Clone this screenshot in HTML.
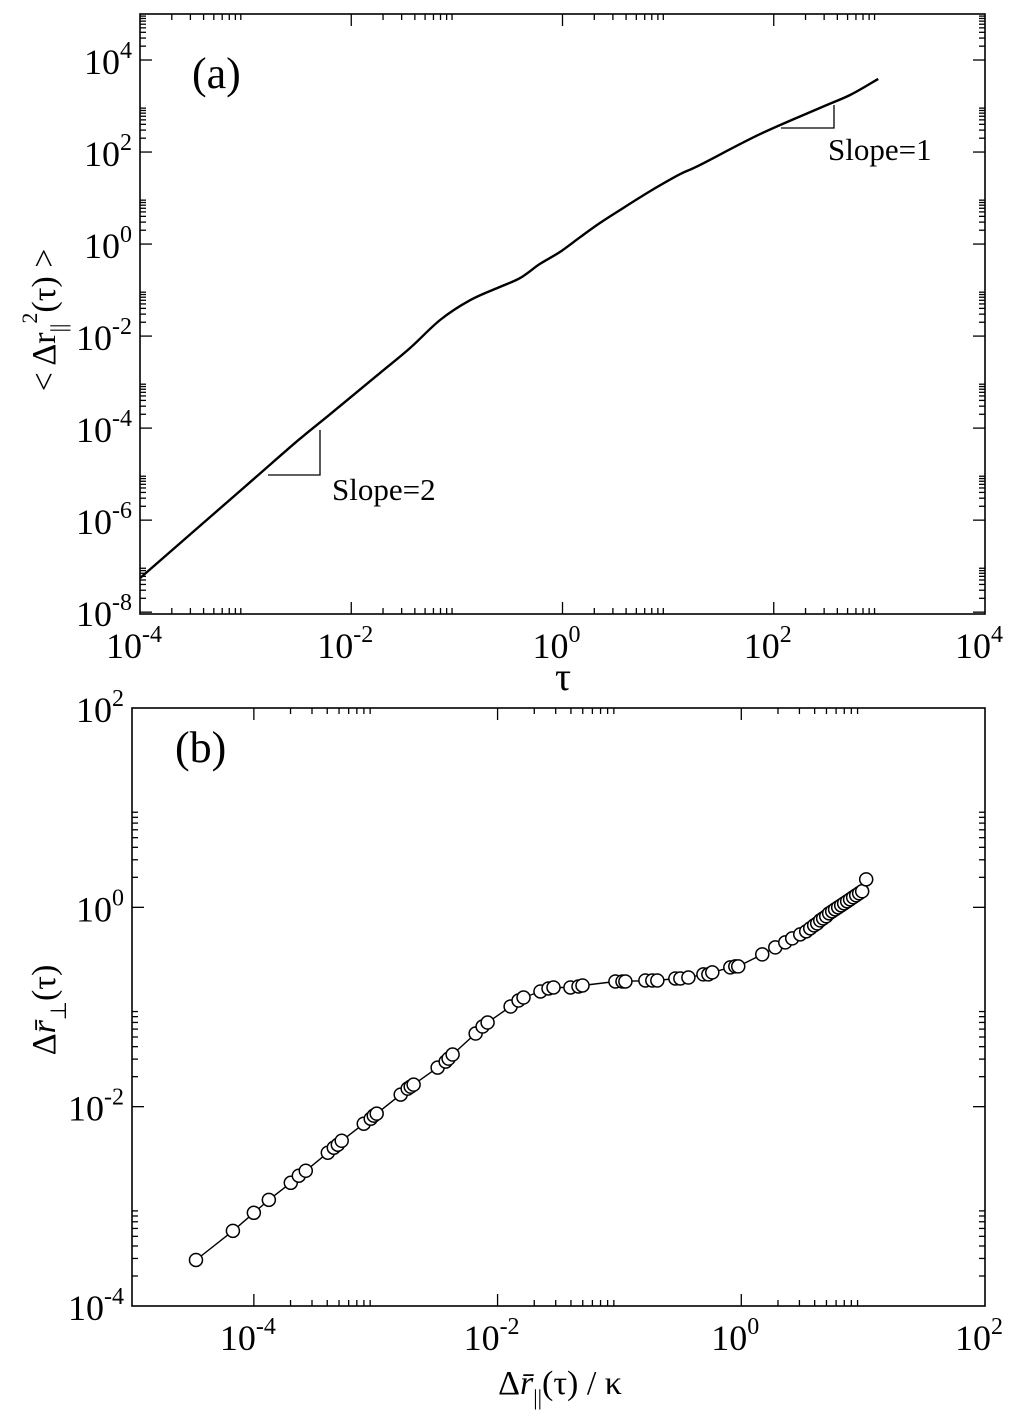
<!DOCTYPE html>
<html><head><meta charset="utf-8"><style>
body{margin:0;background:#fff}
svg{display:block;font-family:"Liberation Serif",serif}
</style></head><body>
<svg id="fig" width="1024" height="1426" viewBox="0 0 1024 1426" xmlns="http://www.w3.org/2000/svg">
<g id="pa"></g>
<g id="pb"></g>
<text x="192" y="88" font-size="44">(a)</text>
<text x="175" y="762" font-size="44">(b)</text>
<text x="563" y="690" font-size="40" text-anchor="middle">τ</text>
<text transform="translate(55,320) rotate(-90)" font-size="34" text-anchor="middle">&lt; Δr<tspan font-size="22" dy="11">||</tspan><tspan font-size="22" dy="-29">2</tspan><tspan dy="18">(τ) &gt;</tspan></text>
<text x="560" y="1394" font-size="34" text-anchor="middle">Δ<tspan font-style="italic">r̄</tspan><tspan font-size="22" dy="11">||</tspan><tspan dy="-11">(τ) / κ</tspan></text>
<text transform="translate(55,1010) rotate(-90)" font-size="34" text-anchor="middle">Δ<tspan font-style="italic">r̄</tspan><tspan font-size="22" dy="11">⊥</tspan><tspan dy="-11">(τ)</tspan></text>
<g stroke="#000" stroke-width="1.3" fill="none"><path d="M268 475 H320 V430"/></g>
<text x="332" y="500" font-size="31">Slope=2</text>
<g stroke="#000" stroke-width="1.3" fill="none"><path d="M781 128 H834 V105"/></g>
<text x="828" y="160" font-size="31">Slope=1</text>
</svg>
<script>
// Panel (a) data: log10(tau), log10(<dr^2>)
const aLogTau = [-4,-3,-2.5,-2.201,-1.727,-1.443,-1.159,-0.875,-0.591,-0.402,-0.212,-0.023,0.167,0.356,0.545,0.830,1.114,1.303,1.871,2.439,2.723,2.989];
const aLogMsd = [-7.26,-5.26,-4.26,-3.70,-2.80,-2.26,-1.65,-1.22,-0.93,-0.74,-0.43,-0.17,0.15,0.46,0.74,1.15,1.52,1.72,2.39,2.96,3.24,3.59];
const aXTicks = [-4,-2,0,2,4];
const aYTicks = [-8,-6,-4,-2,0,2,4];
// Panel (b) data: log10 values
const bLogX = [-4.475,-4.172,-4.000,-3.877,-3.697,-3.631,-3.574,-3.393,-3.344,-3.311,-3.279,-3.098,-3.041,-3.016,-2.992,-2.795,-2.738,-2.713,-2.689,-2.492,-2.426,-2.402,-2.369,-2.180,-2.123,-2.082,-1.893,-1.828,-1.787,-1.648,-1.582,-1.541,-1.402,-1.336,-1.303,-1.033,-0.975,-0.951,-0.787,-0.730,-0.689,-0.541,-0.500,-0.434,-0.311,-0.270,-0.238,-0.090,-0.049,-0.025,0.172,0.279,0.361,0.418,0.484,0.533,0.566,0.598,0.623,0.648,0.672,0.697,0.721,0.746,0.770,0.795,0.820,0.844,0.869,0.893,0.918,0.943,0.967,0.992,1.025];
const bLogY = [-3.538,-3.246,-3.065,-2.935,-2.764,-2.693,-2.643,-2.462,-2.412,-2.382,-2.342,-2.171,-2.121,-2.090,-2.070,-1.879,-1.819,-1.799,-1.779,-1.608,-1.548,-1.518,-1.477,-1.266,-1.196,-1.156,-0.995,-0.935,-0.905,-0.844,-0.814,-0.804,-0.804,-0.794,-0.784,-0.744,-0.744,-0.744,-0.734,-0.734,-0.734,-0.714,-0.714,-0.704,-0.673,-0.673,-0.653,-0.603,-0.593,-0.593,-0.472,-0.402,-0.352,-0.312,-0.271,-0.241,-0.211,-0.181,-0.161,-0.131,-0.111,-0.090,-0.060,-0.040,-0.020,0.000,0.020,0.040,0.060,0.080,0.101,0.121,0.141,0.161,0.281];
const bXTicks = [-4,-2,0,2];
const bYTicks = [-4,-2,0,2];

const NS='http://www.w3.org/2000/svg';
function mk(tag,attrs,parent){const e=document.createElementNS(NS,tag);for(const k in attrs)e.setAttribute(k,attrs[k]);parent.appendChild(e);return e;}

function panel(g,box,xr,yr,xt,yt,pre){
  const sx=v=>box.l+(v-xr[0])/(xr[1]-xr[0])*(box.r-box.l);
  const sy=v=>box.b-(v-yr[0])/(yr[1]-yr[0])*(box.b-box.t);
  const frame=mk('rect',{x:box.l,y:box.t,width:box.r-box.l,height:box.b-box.t,fill:'none',stroke:'#000','stroke-width':1.6},g);
  
  
  const tk=mk('g',{stroke:'#000','stroke-width':1.3},g);
  
  
  xt.forEach((v,i)=>{
    const x=sx(v);
    if(v>xr[0]&&v<xr[1]){mk('line',{x1:x,x2:x,y1:box.b,y2:box.b-12},tk);mk('line',{x1:x,x2:x,y1:box.t,y2:box.t+12},tk);}
    if(i<xt.length-1)for(let k=2;k<=9;k++){const xm=sx(v+Math.log10(k));mk('line',{x1:xm,x2:xm,y1:box.b,y2:box.b-6},tk);mk('line',{x1:xm,x2:xm,y1:box.t,y2:box.t+6},tk);}
    const t=mk('text',{x:x-6,y:box.b+44,'font-size':36,'text-anchor':'middle'},g);
    
    
    t.innerHTML='10<tspan font-size="24" dy="-16">'+v+'</tspan>';
  });
  yt.forEach((v,i)=>{
    const y=sy(v);
    if(v>yr[0]&&v<yr[1]){mk('line',{x1:box.l,x2:box.l+12,y1:y,y2:y},tk);mk('line',{x1:box.r,x2:box.r-12,y1:y,y2:y},tk);}
    for(let k=2;k<=9;k++){const lv=v+Math.log10(k);if(lv>yr[1])break;const ym=sy(lv);mk('line',{x1:box.l,x2:box.l+6,y1:ym,y2:ym},tk);mk('line',{x1:box.r,x2:box.r-6,y1:ym,y2:ym},tk);}
    const t=mk('text',{x:box.l-8,y:y+14,'font-size':36,'text-anchor':'end'},g);
    
    
    t.innerHTML='10<tspan font-size="24" dy="-16">'+v+'</tspan>';
  });
  return {sx,sy};
}

function smooth(pts){
  let d='M'+pts[0][0].toFixed(1)+' '+pts[0][1].toFixed(1);
  for(let i=0;i<pts.length-1;i++){
    const p0=pts[Math.max(0,i-1)],p1=pts[i],p2=pts[i+1],p3=pts[Math.min(pts.length-1,i+2)];
    const c1=[p1[0]+(p2[0]-p0[0])/6,p1[1]+(p2[1]-p0[1])/6];
    const c2=[p2[0]-(p3[0]-p1[0])/6,p2[1]-(p3[1]-p1[1])/6];
    d+='C'+c1[0].toFixed(1)+' '+c1[1].toFixed(1)+' '+c2[0].toFixed(1)+' '+c2[1].toFixed(1)+' '+p2[0].toFixed(1)+' '+p2[1].toFixed(1);
  }
  return d;
}

const A=panel(document.getElementById('pa'),{l:140,r:985,t:14,b:614},[-4,4],[-8.04,5.0],aXTicks,aYTicks,'panel-a');
const aPts=aLogTau.map((v,i)=>[A.sx(v),A.sy(aLogMsd[i])]);
const la=mk('path',{d:smooth(aPts),fill:'none',stroke:'#000','stroke-width':2.4,'stroke-linejoin':'round'},document.getElementById('pa'));



const B=panel(document.getElementById('pb'),{l:132,r:985,t:708,b:1306},[-5,2],[-4,2],bXTicks,bYTicks,'panel-b');
let d2='';
bLogX.forEach((v,i)=>{d2+=(i?'L':'M')+B.sx(v).toFixed(1)+' '+B.sy(bLogY[i]).toFixed(1);});
const lb=mk('path',{d:d2,fill:'none',stroke:'#000','stroke-width':1.4},document.getElementById('pb'));


const mg=mk('g',{},document.getElementById('pb'));


bLogX.forEach((v,i)=>{
  const c=mk('circle',{cx:B.sx(v),cy:B.sy(bLogY[i]),r:6.5,fill:'#fff',stroke:'#000','stroke-width':1.5},mg);
  
  
});
</script>
</body></html>
